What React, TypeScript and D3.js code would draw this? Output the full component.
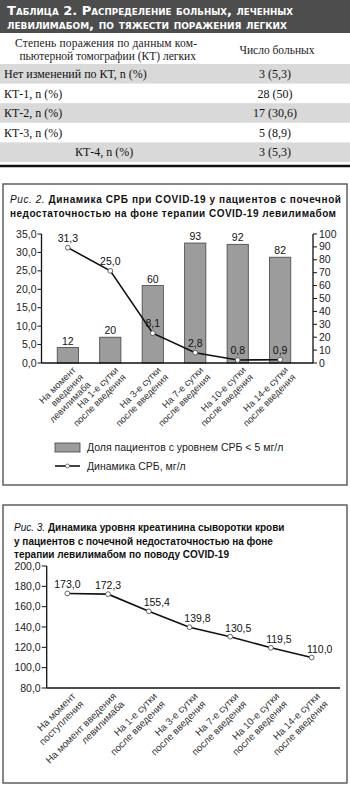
import * as d3 from 'd3'

// Table 2
const tableTitle = ['Таблица 2. Распределение больных, леченных', 'левилимабом, по тяжести поражения легких']
const tableHead = ['Степень поражения по данным ком-', 'пьютерной томографии (КТ) легких']
const tableHeadCount = 'Число больных'
const ktGrades = ['Нет изменений по КТ, n (%)', 'КТ-1, n (%)', 'КТ-2, n (%)', 'КТ-3, n (%)', 'КТ-4, n (%)']
const ktCounts = ['3 (5,3)', '28 (50)', '17 (30,6)', '5 (8,9)', '3 (5,3)']

// Fig. 2
const crpDays = [
  ['На момент', 'введения', 'левилимаба'],
  ['На 1-е сутки', 'после введения'],
  ['На 3-е сутки', 'после введения'],
  ['На 7-е сутки', 'после введения'],
  ['На 10-е сутки', 'после введения'],
  ['На 14-е сутки', 'после введения'],
]
const crpShare = [12, 20, 60, 93, 92, 82]
const crpMean = [31.3, 25.0, 8.1, 2.8, 0.8, 0.9]
const crpLeftTicks = [0, 5, 10, 15, 20, 25, 30, 35]
const crpRightTicks = [0, 10, 20, 30, 40, 50, 60, 70, 80, 90, 100]
const crpLegend = ['Доля пациентов с уровнем СРБ < 5 мг/л', 'Динамика СРБ, мг/л']

// Fig. 3
const creatDays = [
  ['На момент', 'поступления'],
  ['На момент введения', 'левилимаба'],
  ['На 1-е сутки', 'после введения'],
  ['На 3-е сутки', 'после введения'],
  ['На 7-е сутки', 'после введения'],
  ['На 10-е сутки', 'после введения'],
  ['На 14-е сутки', 'после введения'],
]
const creatValues = [173.0, 172.3, 155.4, 139.8, 130.5, 119.5, 110.0]
const creatTicks = [80, 100, 120, 140, 160, 180, 200]

const W = 350
const H = 788
const sans = '"Liberation Sans", Arial, sans-serif'
const serif = '"Liberation Serif", "Times New Roman", serif'
const comma = (v: number) => v.toFixed(1).replace('.', ',')

function Table() {
  const rowTop = 64
  const rowH = 19.6
  return (
    <g>
      <rect x={0} y={0} width={W} height={33} fill="#4d4d4d" />
      {tableTitle.map((t, i) => (
        <text key={i} x={7} y={15 + i * 14} fill="#fff" fontFamily='"DejaVu Sans", sans-serif'
          fontWeight="bold" fontSize={12} style={{ fontVariant: 'small-caps' }}
          textLength={i === 0 ? 286 : 280} lengthAdjust="spacingAndGlyphs">{t}</text>
      ))}
      <text x={15} y={47} fontFamily={serif} fontSize={11.5} fill="#222" textLength={182} lengthAdjust="spacing">{tableHead[0]}</text>
      <text x={196} y={60} textAnchor="end" fontFamily={serif} fontSize={11.5} fill="#222">{tableHead[1]}</text>
      <text x={277} y={54} textAnchor="middle" fontFamily={serif} fontSize={11.5} fill="#222">{tableHeadCount}</text>
      {ktGrades.map((g, i) => (
        <g key={g}>
          {i % 2 === 0 && <rect x={0} y={rowTop + i * rowH} width={W} height={rowH} fill="#d9d9d9" />}
          <text x={i === 4 ? 75 : 4} y={rowTop + i * rowH + 14} fontFamily={serif} fontSize={12} fill="#111">{g}</text>
          <text x={275} y={rowTop + i * rowH + 14} textAnchor="middle" fontFamily={serif} fontSize={12} fill="#111">{ktCounts[i]}</text>
        </g>
      ))}
      <line x1={0} x2={W} y1={166} y2={166} stroke="#111" strokeWidth={2.5} />
    </g>
  )
}

function CrpChart() {
  const top = 234
  const bottom = 363
  const xL = 41.5
  const xR = 313
  const x = d3.scaleBand<number>().domain(d3.range(crpShare.length)).range([36, 312]).padding(0.5)
  const yL = d3.scaleLinear().domain([0, 35]).range([bottom, top])
  const yR = d3.scaleLinear().domain([0, 100]).range([bottom, top])
  const cx = (i: number) => (x(i) || 0) + x.bandwidth() / 2
  const line = d3.line<number>().x((_, i) => cx(i)).y(d => yL(d))

  return (
    <g fontFamily={sans}>
      <rect x={3} y={184} width={344} height={301} fill="none" stroke="#555" strokeWidth={1.4} />
      <text x={10} y={203} fontSize={10} fill="#111" textLength={331} lengthAdjust="spacing">
        <tspan fontStyle="italic">Рис. 2. </tspan>
        <tspan fontWeight="bold">Динамика СРБ при COVID-19 у пациентов с почечной</tspan>
      </text>
      <text x={10} y={217} fontSize={10} fill="#111" fontWeight="bold" textLength={326} lengthAdjust="spacing">
        недостаточностью на фоне терапии COVID-19 левилимабом
      </text>

      {/* bars */}
      {crpShare.map((v, i) => (
        <g key={i}>
          <rect x={x(i)} y={yR(v)} width={x.bandwidth()} height={bottom - yR(v)}
            fill="#9c9c9c" stroke="#444" strokeWidth={0.8} />
          <text x={cx(i)} y={yR(v) - 3} textAnchor="middle" fontSize={10.5} fill="#111">{v}</text>
        </g>
      ))}

      {/* axes */}
      <line x1={xL} x2={xL} y1={top} y2={bottom} stroke="#111" strokeWidth={1.3} />
      <line x1={xR} x2={xR} y1={top} y2={bottom} stroke="#111" strokeWidth={1.3} />
      <line x1={xL} x2={xR} y1={bottom} y2={bottom} stroke="#111" strokeWidth={1.3} />
      {crpLeftTicks.map(t => (
        <g key={t}>
          <line x1={xL - 4} x2={xL} y1={yL(t)} y2={yL(t)} stroke="#111" />
          <text x={xL - 5} y={yL(t) + 3.5} textAnchor="end" fontSize={10.5} fill="#222">{comma(t)}</text>
        </g>
      ))}
      {crpRightTicks.map(t => (
        <g key={t}>
          <line x1={xR} x2={xR + 4} y1={yR(t)} y2={yR(t)} stroke="#111" />
          <text x={xR + 6} y={yR(t) + 3.5} fontSize={10.5} fill="#222">{t}</text>
        </g>
      ))}

      {/* line */}
      <path d={line(crpMean) || ''} fill="none" stroke="#111" strokeWidth={1.6} />
      {crpMean.map((v, i) => (
        <g key={i}>
          <circle cx={cx(i)} cy={yL(v)} r={2.4} fill="#fff" stroke="#555" strokeWidth={0.9} />
          <text x={cx(i)} y={yL(v) - 6} textAnchor="middle" fontSize={10.5} fill="#111">{comma(v)}</text>
        </g>
      ))}

      {/* x labels */}
      {crpDays.map((lines, i) => (
        <text key={i} transform={`translate(${cx(i) + 4},${bottom + 3}) rotate(-45)`} textAnchor="end"
          fontSize={9.4} fill="#333">
          {lines.map((l, j) => (
            <tspan key={j} x={0} dy={j === 0 ? '0.7em' : '1.1em'}>{l}</tspan>
          ))}
        </text>
      ))}

      {/* legend */}
      <rect x={55} y={443} width={25} height={9} fill="#9c9c9c" stroke="#444" strokeWidth={0.8} />
      <text x={87} y={451} fontSize={10.5} fill="#222">{crpLegend[0]}</text>
      <line x1={55} x2={80} y1={466} y2={466} stroke="#111" strokeWidth={1.6} />
      <circle cx={67.5} cy={466} r={2} fill="#fff" stroke="#555" strokeWidth={0.8} />
      <text x={87} y={470} fontSize={10.5} fill="#222">{crpLegend[1]}</text>
    </g>
  )
}

function CreatChart() {
  const top = 566
  const bottom = 688
  const xL = 46.7
  const xEnd = 340
  const x = d3.scaleBand<number>().domain(d3.range(creatValues.length)).range([47, 332])
  const y = d3.scaleLinear().domain([80, 200]).range([bottom, top])
  const cx = (i: number) => (x(i) || 0) + x.bandwidth() / 2
  const line = d3.line<number>().x((_, i) => cx(i)).y(d => y(d))

  return (
    <g fontFamily={sans}>
      <rect x={3} y={505} width={344} height={278} fill="none" stroke="#555" strokeWidth={1.4} />
      {[
        'Динамика уровня креатинина сыворотки крови',
        'у пациентов с почечной недостаточностью на фоне',
        'терапии левилимабом по поводу COVID-19',
      ].map((t, i) => (
        <text key={i} x={14} y={531 + i * 13.5} fontSize={10} fill="#111">
          {i === 0 && <tspan fontStyle="italic">Рис. 3. </tspan>}
          <tspan fontWeight="bold">{t}</tspan>
        </text>
      ))}

      <line x1={xL} x2={xL} y1={top} y2={bottom} stroke="#111" strokeWidth={1.3} />
      <line x1={xL} x2={xEnd} y1={bottom} y2={bottom} stroke="#111" strokeWidth={1.3} />
      {creatTicks.map(t => (
        <g key={t}>
          <line x1={xL - 5} x2={xL} y1={y(t)} y2={y(t)} stroke="#111" />
          <text x={xL - 6} y={y(t) + 3.5} textAnchor="end" fontSize={10.5} fill="#222">{comma(t)}</text>
        </g>
      ))}

      <path d={line(creatValues) || ''} fill="none" stroke="#111" strokeWidth={1.6} />
      {creatValues.map((v, i) => (
        <g key={i}>
          <circle cx={cx(i)} cy={y(v)} r={2.4} fill="#fff" stroke="#555" strokeWidth={0.9} />
          <text x={cx(i) + (i < 2 ? 0 : 8)} y={y(v) - 5} textAnchor="middle" fontSize={10.5} fill="#111">{comma(v)}</text>
        </g>
      ))}

      {creatDays.map((lines, i) => (
        <text key={i} transform={`translate(${cx(i) + 4},${bottom + 4}) rotate(-45)`} textAnchor="end"
          fontSize={9.8} fill="#333">
          {lines.map((l, j) => (
            <tspan key={j} x={0} dy={j === 0 ? '0.7em' : '1.15em'}>{l}</tspan>
          ))}
        </text>
      ))}
    </g>
  )
}

export default function App() {
  return (
    <svg width={W} height={H} viewBox={`0 0 ${W} ${H}`}
      style={{ position: 'absolute', left: 0, top: 0, background: '#fff' }}>
      <rect width={W} height={H} fill="#fff" />
      <Table />
      <CrpChart />
      <CreatChart />
    </svg>
  )
}
